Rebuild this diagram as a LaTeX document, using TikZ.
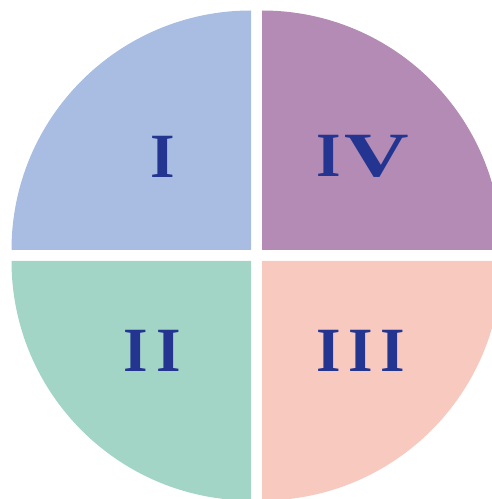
\documentclass[tikz,border=0pt]{standalone}
\usepackage{fontspec}
\setmainfont{Liberation Serif}
\definecolor{qone}{HTML}{A8BDE1}
\definecolor{qfour}{HTML}{B48BB5}
\definecolor{qtwo}{HTML}{A2D5C5}
\definecolor{qthree}{HTML}{F7C9BF}
\definecolor{numcol}{HTML}{233590}
\begin{document}
\begin{tikzpicture}[x=1pt,y=1pt,
  numeral/.style={inner sep=0pt, outer sep=0pt, text=numcol, font=\fontsize{63}{63}\selectfont\bfseries}]
\useasboundingbox (0,0) rectangle (492,499);
\def\R{239.5}
\begin{scope}
\clip (0,0) rectangle (492,499);
\fill[qone]   (251,249) -- ++(-\R,0) arc[start angle=180, end angle=90, radius=\R] -- cycle;
\fill[qfour]  (262,249) -- ++(0,\R) arc[start angle=90, end angle=0, radius=\R] -- cycle;
\fill[qtwo]   (251,238) -- ++(-\R,0) arc[start angle=180, end angle=270, radius=\R] -- cycle;
\fill[qthree] (262,238) -- ++(0,-\R) arc[start angle=270, end angle=360, radius=\R] -- cycle;
\end{scope}
\node[numeral] (one)   at (162.5,342.5) {I};
\node[numeral] (four)  at (363,342.5) {I\kern3pt\scalebox{1.42}[1]{V}};
\node[numeral] (two)   at (152,148) {I\kern8.5pt I};
\node[numeral] (three) at (360.5,148) {I\kern7.5pt I\kern7.5pt I};
\end{tikzpicture}
\end{document}
